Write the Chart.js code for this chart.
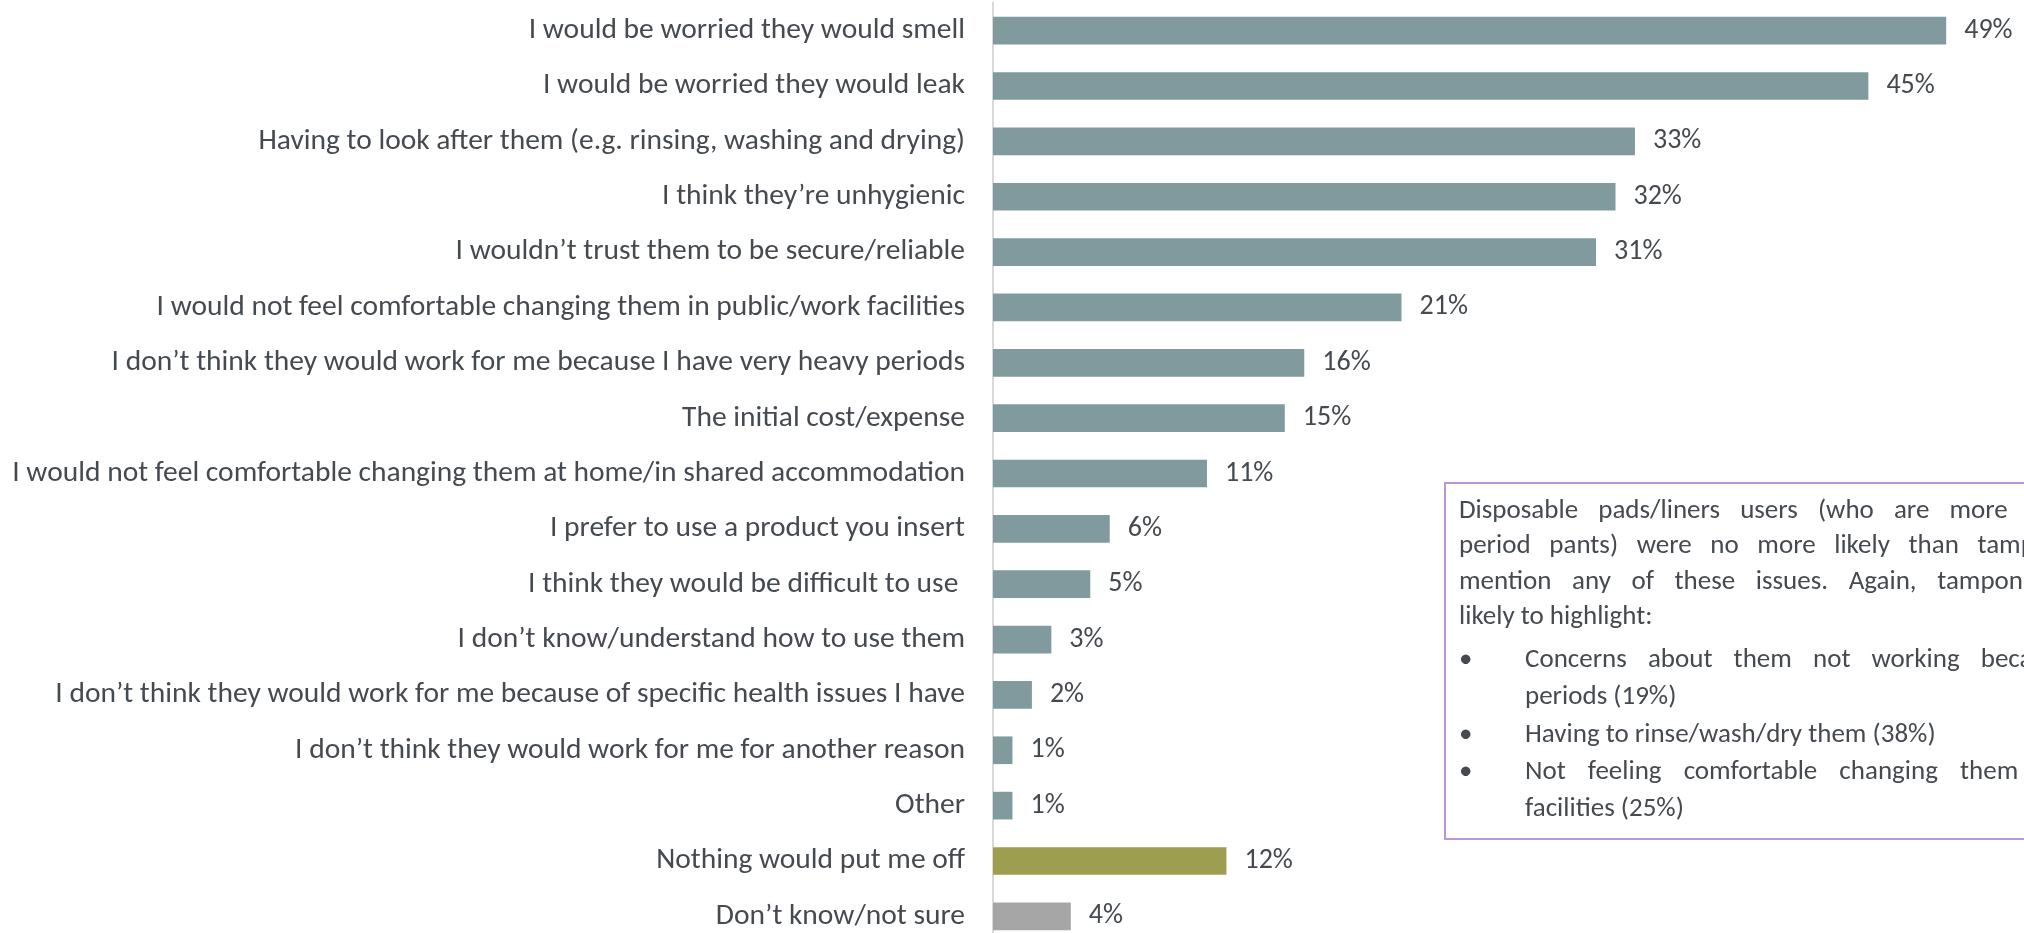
<!DOCTYPE html>
<html>
<head>
<meta charset="utf-8">
<script src="https://cdn.jsdelivr.net/npm/chart.js@4"></script>
<style>
  html, body { margin: 0; padding: 0; background: #fff; overflow: hidden; }
  body { width: 2024px; height: 933px; position: relative; }
  #barChart { position: absolute; left: 0; top: 0; }
  .note {
    position: absolute; left: 1444px; top: 482px; width: 760px; height: 354px;
    border: 2px solid #B996D6;
    font-family: Carlito, Lato, sans-serif; font-size: 27px; color: #454a50;
    white-space: nowrap;
  }
  .note .para { position: absolute; left: 13px; top: 7px; line-height: 35.3px; }
  /* justified lines of the paragraph get wider word gaps */
  .note .j1 { word-spacing: 14px; }
  .note .j2 { word-spacing: 12.5px; }
  .note .j3 { word-spacing: 14.5px; }
  .note .j4 { word-spacing: 15px; }
  .note .j5 { word-spacing: 16px; }
  .note ul { list-style: none; margin: 7px 0 0 0; padding: 0; line-height: 37.3px; }
  .note li { position: relative; padding-left: 66px; }
  .note li::before { content: "\2022"; position: absolute; left: 0; }
</style>
</head>
<body>
<canvas id="barChart" width="2024" height="944"></canvas>

<div class="note">
  <div class="para">
    <div class="j1">Disposable pads/liners users (who are more likely to consider</div>
    <div class="j2">period pants) were no more likely than tampon users to</div>
    <div class="j3">mention any of these issues. Again, tampon users were more</div>
    <div>likely to highlight:</div>
    <ul>
      <li><span class="j4">Concerns about them not working because of very heavy</span><br>periods (19%)</li>
      <li>Having to rinse/wash/dry them (38%)</li>
      <li><span class="j5">Not feeling comfortable changing them in public/work</span><br>facilities (25%)</li>
    </ul>
  </div>
</div>

<script>
// reasons that would put people off using period pants
const reasons = [
  'I would be worried they would smell',
  'I would be worried they would leak',
  'Having to look after them (e.g. rinsing, washing and drying)',
  'I think they\u2019re unhygienic',
  'I wouldn\u2019t trust them to be secure/reliable',
  'I would not feel comfortable changing them in public/work facilities',
  'I don\u2019t think they would work for me because I have very heavy periods',
  'The initial cost/expense',
  'I would not feel comfortable changing them at home/in shared accommodation',
  'I prefer to use a product you insert',
  'I think they would be difficult to use ',
  'I don\u2019t know/understand how to use them',
  'I don\u2019t think they would work for me because of specific health issues I have',
  'I don\u2019t think they would work for me for another reason',
  'Other',
  'Nothing would put me off',
  'Don\u2019t know/not sure'
];
const percentages = [49, 45, 33, 32, 31, 21, 16, 15, 11, 6, 5, 3, 2, 1, 1, 12, 4];
const barColors = [
  '#819A9E', '#819A9E', '#819A9E', '#819A9E', '#819A9E', '#819A9E',
  '#819A9E', '#819A9E', '#819A9E', '#819A9E', '#819A9E', '#819A9E',
  '#819A9E', '#819A9E', '#819A9E', '#9E9E50', '#A6A6A6'
];

const FONT = 'Carlito, Lato, sans-serif';
const TEXT_COLOR = '#454a50';

// writes "NN%" just past the end of each bar
const valueLabels = {
  id: 'valueLabels',
  afterDatasetsDraw(chart) {
    const ctx = chart.ctx;
    const meta = chart.getDatasetMeta(0);
    ctx.save();
    ctx.font = '28px ' + FONT;
    ctx.fillStyle = TEXT_COLOR;
    ctx.textAlign = 'left';
    ctx.textBaseline = 'middle';
    meta.data.forEach((bar, i) => {
      ctx.fillText(percentages[i] + '%', bar.x + 18, bar.y);
    });
    ctx.restore();
  }
};

const ctx = document.getElementById('barChart').getContext('2d');
new Chart(ctx, {
  type: 'bar',
  data: {
    labels: reasons,
    datasets: [{
      data: percentages,
      backgroundColor: barColors,
      borderWidth: 0,
      barPercentage: 0.5,
      categoryPercentage: 1.0
    }]
  },
  options: {
    indexAxis: 'y',
    responsive: false,
    animation: false,
    devicePixelRatio: 1,
    layout: { padding: { top: 3, right: 0, bottom: 0, left: 0 } },
    plugins: {
      legend: { display: false },
      tooltip: { enabled: false }
    },
    scales: {
      x: {
        display: false,
        min: 0,
        max: 53
      },
      y: {
        grid: { display: false, drawTicks: false },
        border: { display: true, color: '#D9D9D9', width: 2 },
        ticks: {
          autoSkip: false,
          padding: 28,
          color: TEXT_COLOR,
          font: { family: FONT, size: 29.5 }
        },
        afterFit(scale) {
          // fixed label column, and no extra room above/below the bars
          scale.width = 993;
          scale.paddingTop = 0;
          scale.paddingBottom = 0;
        }
      }
    }
  },
  plugins: [valueLabels]
});
</script>
</body>
</html>
